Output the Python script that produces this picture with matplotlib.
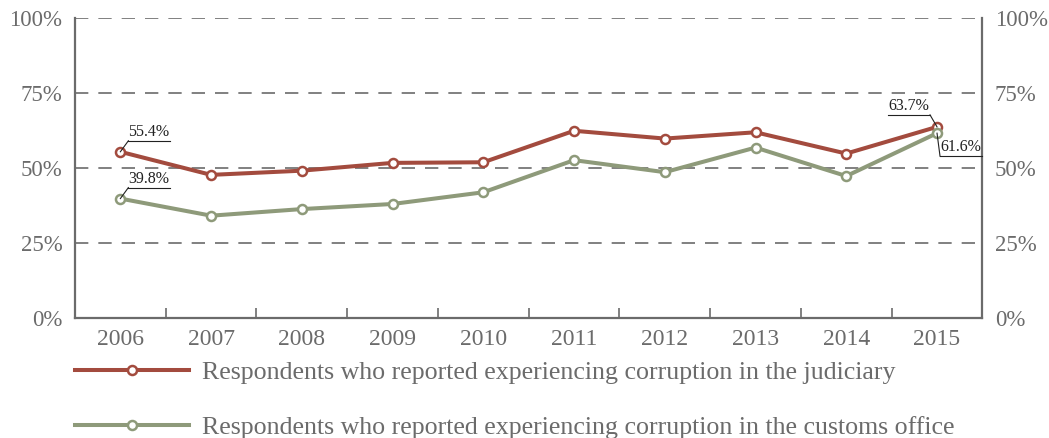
import matplotlib
matplotlib.use("Agg")
import matplotlib.pyplot as plt
from matplotlib.lines import Line2D
from matplotlib.ticker import FixedLocator, FuncFormatter

years = ["2006", "2007", "2008", "2009", "2010", "2011", "2012", "2013", "2014", "2015"]
judiciary = [55.4, 47.7, 49.1, 51.7, 51.9, 62.4, 59.8, 61.9, 54.8, 63.7]
customs = [39.8, 34.1, 36.3, 38.0, 41.9, 52.6, 48.6, 56.8, 47.3, 61.6]
y_ticks = [0, 25, 50, 75, 100]

label_judiciary = "Respondents who reported experiencing corruption in the judiciary"
label_customs = "Respondents who reported experiencing corruption in the customs office"

RED = "#a34b3e"
GREEN = "#8e9a7a"
GREY = "#6b6b6b"

plt.rcParams["font.family"] = ["Liberation Serif", "DejaVu Serif"]

fig = plt.figure(figsize=(10.49, 4.38), dpi=100)
ax = fig.add_axes([0.0715, 0.274, 0.865, 0.685])

x = list(range(len(years)))

for vals, col, lab in [(judiciary, RED, label_judiciary), (customs, GREEN, label_customs)]:
    ax.plot(x, vals, color=col, lw=2.9, marker="o", ms=6.5, mfc="white",
            mec=col, mew=1.8, label=lab, zorder=3)

ax.set_xlim(-0.5, len(years) - 0.5)
ax.set_ylim(0, 100)

# grid lines
for t in y_ticks[1:]:
    ax.axhline(t, color=GREY, lw=1.2, ls=(0, (8, 6)), zorder=1)

ax.set_xticks(x)
ax.set_xticklabels(years)
ax.xaxis.set_minor_locator(FixedLocator([i + 0.5 for i in range(len(years) - 1)]))
ax.tick_params(axis="x", which="major", length=0, pad=8, labelsize=17, labelcolor=GREY)
ax.tick_params(axis="x", which="minor", length=7, width=1.2, direction="in", color=GREY)

ax.set_yticks(y_ticks)
ax.yaxis.set_major_formatter(FuncFormatter(lambda v, p: f"{v:.0f}%"))
ax.tick_params(axis="y", length=0, pad=9, labelsize=16.5, labelcolor=GREY,
               left=True, right=True, labelleft=True, labelright=True)

for side in ["left", "right", "bottom"]:
    ax.spines[side].set_color(GREY)
    ax.spines[side].set_linewidth(1.6)
ax.spines["top"].set_visible(False)

# value callouts with leader line + underline
renderer = fig.canvas.get_renderer()


def callout(idx, val, dx, dy, side):
    px, py = ax.transData.transform((idx, val))
    cx, cy = px + dx, py + dy
    txt = fig.text(0, 0, f"{val:.1f}%", fontsize=11.5, color="#222222",
                   transform=None, va="bottom")
    w = txt.get_window_extent(renderer).width + 1
    if side == "left":
        x0, x1 = cx, cx + w
    else:
        x0, x1 = cx - w, cx
    txt.set_position((x0, cy + 1))
    fig.add_artist(Line2D([px, cx], [py, cy], color="#222222", lw=0.8, transform=None))
    fig.add_artist(Line2D([x0, x1], [cy, cy], color="#222222", lw=0.8, transform=None))


callout(0, judiciary[0], 8, 11, "left")
callout(0, customs[0], 8, 11, "left")
callout(9, judiciary[-1], -7, 12, "right")
callout(9, customs[-1], 3, -23, "left")

fig.legend(loc="upper left", bbox_to_anchor=(0.0715, 0.176), frameon=False,
           fontsize=18.6, labelcolor=GREY, handlelength=4.4, handletextpad=0.5,
           labelspacing=1.24, borderpad=0, borderaxespad=0, numpoints=1)

fig.savefig("out.png", dpi=100)
